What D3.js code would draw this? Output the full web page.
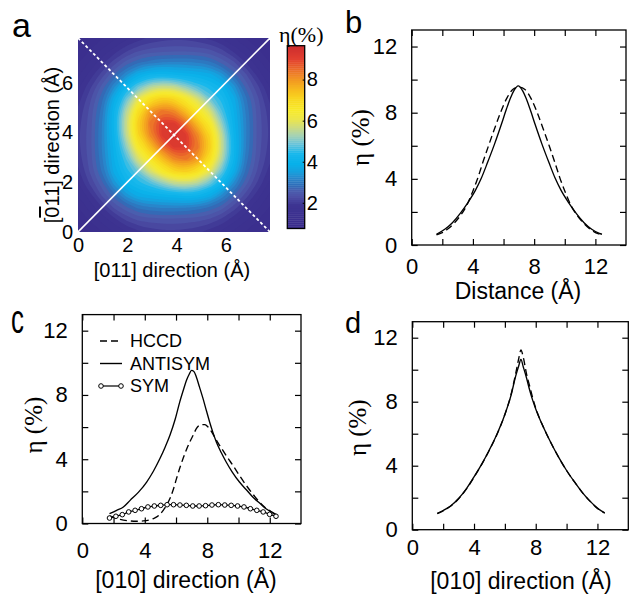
<!DOCTYPE html>
<html>
<head>
<meta charset="utf-8">
<script src="https://cdn.jsdelivr.net/npm/d3@7"></script>
<style>
body { margin: 0; background: #fff; }
svg { display: block; }
text { font-family: "Liberation Sans", Arial, Helvetica, sans-serif; fill: #000; }
.serif { font-family: "Liberation Serif", "Times New Roman", serif; }
</style>
</head>
<body>
<svg id="fig" width="630" height="597"></svg>
<script>
// ---------- data ----------

// panel a: eta (%) on a 17x17 grid, rows from top ([0-11] = 7.8 A) to bottom (0 A),
// columns along [011] from 0 to 7.8 A
var gridA = [
  [1.04,1.21,1.38,1.55,1.74,1.89,2.03,2.11,2.15,2.13,2.07,1.93,1.78,1.60,1.39,1.21,1.04],
  [1.21,1.41,1.63,1.87,2.14,2.35,2.46,2.50,2.52,2.52,2.50,2.43,2.23,1.91,1.68,1.43,1.21],
  [1.38,1.63,1.92,2.29,2.67,2.94,3.10,3.20,3.22,3.22,3.16,3.04,2.73,2.42,1.98,1.68,1.39],
  [1.55,1.87,2.29,2.80,3.34,3.90,4.19,4.24,4.18,4.07,3.99,3.87,3.47,2.90,2.42,1.91,1.60],
  [1.74,2.14,2.67,3.34,4.24,4.95,5.51,5.73,5.62,5.22,4.79,4.48,4.12,3.47,2.73,2.23,1.78],
  [1.89,2.35,2.94,3.90,4.95,6.09,6.92,7.32,7.16,6.59,5.87,5.03,4.48,3.87,3.04,2.43,1.93],
  [2.03,2.46,3.10,4.19,5.51,6.92,8.00,8.48,8.27,7.52,6.71,5.87,4.79,3.99,3.16,2.50,2.07],
  [2.11,2.50,3.20,4.24,5.73,7.32,8.48,9.21,9.25,8.54,7.52,6.59,5.22,4.07,3.22,2.52,2.13],
  [2.15,2.52,3.22,4.18,5.62,7.16,8.27,9.25,9.60,9.25,8.27,7.16,5.62,4.18,3.22,2.52,2.15],
  [2.13,2.52,3.22,4.07,5.22,6.59,7.52,8.54,9.25,9.21,8.48,7.32,5.73,4.24,3.20,2.50,2.11],
  [2.07,2.50,3.16,3.99,4.79,5.87,6.71,7.52,8.27,8.48,8.00,6.92,5.51,4.19,3.10,2.46,2.03],
  [1.93,2.43,3.04,3.87,4.48,5.03,5.87,6.59,7.16,7.32,6.92,6.09,4.95,3.90,2.94,2.35,1.89],
  [1.78,2.23,2.73,3.47,4.12,4.48,4.79,5.22,5.62,5.73,5.51,4.95,4.24,3.34,2.67,2.14,1.74],
  [1.60,1.91,2.42,2.90,3.47,3.87,3.99,4.07,4.18,4.24,4.19,3.90,3.34,2.80,2.29,1.87,1.55],
  [1.39,1.68,1.98,2.42,2.73,3.04,3.16,3.22,3.22,3.20,3.10,2.94,2.67,2.29,1.92,1.63,1.38],
  [1.21,1.43,1.68,1.91,2.23,2.43,2.50,2.52,2.52,2.50,2.46,2.35,2.14,1.87,1.63,1.41,1.21],
  [1.04,1.21,1.39,1.60,1.78,1.93,2.07,2.13,2.15,2.11,2.03,1.89,1.74,1.55,1.38,1.21,1.04]
];
var ticksA = [0, 2, 4, 6];
var cbarTicks = [2, 4, 6, 8];

// panel b: profiles along the two diagonals
var bSolidX = [1.62,2.16,2.66,3.16,3.66,4.16,4.53,4.96,5.41,5.86,6.20,6.46,6.66,6.96,7.26,7.46,7.72,8.06,8.51,8.96,9.39,9.76,10.26,10.76,11.26,11.76,12.26,12.43];
var bSolidY = [0.65,0.95,1.35,1.90,2.55,3.30,4.00,5.00,6.10,7.30,8.25,8.90,9.30,9.62,9.30,8.90,8.25,7.30,6.10,5.00,4.00,3.30,2.55,1.90,1.35,0.95,0.70,0.65];
var bDashX = [1.62,2.0,2.4,2.8,3.2,3.6,3.95,4.3,4.65,5.0,5.4,5.8,6.2,6.6,7.0,7.4,7.8,8.2,8.6,9.0,9.35,9.7,10.05,10.4,10.8,11.2,11.6,12.0,12.43];
var bDashY = [0.62,0.75,1.00,1.35,1.80,2.40,3.15,4.00,5.00,5.95,7.00,8.00,8.85,9.40,9.55,9.40,8.85,8.00,7.00,5.95,5.00,4.00,3.15,2.40,1.80,1.35,1.00,0.75,0.62];

// panel c: HCCD, ANTISYM, SYM along [010]
var cAntiX = [1.74,2.2,2.63,3.06,3.6,4.12,4.55,4.97,5.3,5.61,5.95,6.24,6.5,6.67,6.85,6.99,7.15,7.30,7.5,7.73,7.95,8.15,8.35,8.58,8.9,9.21,9.6,10.06,10.5,10.91,11.35,11.76,12.1,12.40];
var cAntiY = [0.61,0.82,1.03,1.44,1.95,2.58,3.25,4.04,4.75,5.49,6.50,7.57,8.40,8.91,9.30,9.53,9.45,9.12,8.50,7.77,7.00,6.32,5.70,5.07,4.40,3.83,3.20,2.58,2.10,1.65,1.27,0.92,0.72,0.57];
var cHccdX = [1.74,2.42,3.06,3.5,3.9,4.54,4.9,5.18,5.4,5.61,5.82,6.03,6.24,6.45,6.67,6.88,7.1,7.3,7.62,7.85,8.05,8.25,8.47,8.7,9.0,9.3,9.64,10.05,10.49,10.9,11.34,11.7,11.97,12.4];
var cHccdY = [0.47,0.26,0.16,0.14,0.16,0.30,0.50,0.82,1.15,1.55,2.10,2.79,3.45,4.04,4.60,5.07,5.50,5.90,6.15,6.15,6.00,5.75,5.38,5.00,4.55,4.10,3.62,3.00,2.38,1.85,1.34,1.00,0.82,0.51];
var cSymX = [1.74,2.15,2.56,2.97,3.38,3.79,4.2,4.61,5.02,5.43,5.84,6.25,6.66,7.07,7.48,7.89,8.3,8.71,9.12,9.53,9.94,10.35,10.76,11.17,11.58,11.99,12.40];
var cSymY = [0.34,0.45,0.55,0.72,0.82,0.92,1.03,1.09,1.13,1.17,1.17,1.15,1.13,1.09,1.09,1.11,1.15,1.17,1.15,1.13,1.09,1.03,0.92,0.82,0.72,0.57,0.45];
var legendNames = ['HCCD', 'ANTISYM', 'SYM'];

// panel d
var dSolidX = [1.62,2.0,2.5,3.0,3.5,4.0,4.5,5.0,5.5,6.0,6.4,6.7,6.9,7.04,7.2,7.4,7.6,7.8,8.0,8.5,9.0,9.5,10.0,10.5,11.0,11.5,12.0,12.47];
var dSolidY = [1.02,1.20,1.50,1.95,2.55,3.30,4.10,5.00,6.00,7.20,8.40,9.60,10.25,10.65,10.15,9.50,8.75,8.10,7.55,6.40,5.40,4.50,3.70,3.00,2.35,1.80,1.35,1.05];
var dDashX = [1.62,2.0,2.5,3.0,3.5,4.0,4.5,5.0,5.5,6.0,6.4,6.7,6.9,7.04,7.2,7.4,7.6,7.8,8.0,8.5,9.0,9.5,10.0,10.5,11.0,11.5,12.0,12.47];
var dDashY = [1.00,1.18,1.48,1.93,2.53,3.28,4.08,4.98,5.98,7.20,8.45,9.75,10.70,11.23,10.75,9.75,9.00,8.25,7.60,6.40,5.40,4.50,3.70,3.00,2.35,1.80,1.33,1.03];

var lineTicks = [0, 2, 4, 6, 8, 10, 12];

// ---------- drawing ----------
var svg = d3.select('#fig');

// jet-like colour map taken from the colour bar
var cmapStops = [0.75,1.9,2.3,2.6,2.85,3.15,3.5,3.9,4.4,4.9,5.3,5.7,6.1,6.5,7.0,7.5,8.0,8.5,9.0,9.65];
var cmapColors = ['#3a2c8b','#3d3492','#4d4fa5','#4a5eae','#2f6db8','#2b82c8','#189edc','#08b0ea','#18b8ec','#6cc4d8','#a6d2b2','#cfdc7e','#ece64a','#f7ea2a','#f8da20','#f7bc1e','#f29822','#eb6c29','#e2402f','#cc2d2f'];
var cmap = d3.scaleLinear().domain(cmapStops).range(cmapColors).clamp(true);

// ---- panel a ----
var xA = d3.scaleLinear().domain([0, 7.8]).range([78, 270]);
var yA = d3.scaleLinear().domain([0, 7.8]).range([232, 38]);
var nA = gridA.length;
var gpos = d3.scaleLinear().domain([0.5, nA - 0.5]).range([0, 7.8]);
var levels = d3.range(0.8, 9.7, 0.2);
var contours = d3.contours().size([nA, nA]).thresholds(levels)([].concat.apply([], gridA));

svg.append('clipPath').attr('id', 'clipA').append('rect')
  .attr('x', xA(0)).attr('y', yA(7.8)).attr('width', xA(7.8) - xA(0)).attr('height', yA(0) - yA(7.8));
var gA = svg.append('g').attr('clip-path', 'url(#clipA)');
gA.append('rect').attr('x', xA(0)).attr('y', yA(7.8))
  .attr('width', xA(7.8) - xA(0)).attr('height', yA(0) - yA(7.8)).attr('fill', cmap(0.75));

var ring = d3.line()
  .x(function(p) { return xA(gpos(p[0])); })
  .y(function(p) { return yA(7.8 - gpos(p[1])); })
  .curve(d3.curveBasisClosed);

contours.forEach(function(c) {
  var dstr = c.coordinates.map(function(poly) {
    return poly.map(function(r) { return ring(r.slice(0, -1)); }).join('');
  }).join('');
  if (dstr) gA.append('path').attr('d', dstr).attr('fill', cmap(c.value)).attr('fill-rule', 'evenodd');
});

gA.append('line').attr('x1', xA(0)).attr('y1', yA(0)).attr('x2', xA(7.8)).attr('y2', yA(7.8))
  .attr('stroke', '#fff').attr('stroke-width', 1.6);
gA.append('line').attr('x1', xA(0)).attr('y1', yA(7.8)).attr('x2', xA(7.8)).attr('y2', yA(0))
  .attr('stroke', '#fff').attr('stroke-width', 1.8).attr('stroke-dasharray', '3,2.4');

var axA1 = svg.append('g').attr('transform', 'translate(0,' + yA(0) + ')')
  .call(d3.axisBottom(xA).tickValues(ticksA).tickSize(0).tickPadding(6));
var axA2 = svg.append('g').attr('transform', 'translate(' + xA(0) + ',0)')
  .call(d3.axisLeft(yA).tickValues(ticksA).tickSize(0).tickPadding(5));
[axA1, axA2].forEach(function(ax) {
  ax.attr('font-family', null).attr('font-size', null);
  ax.select('.domain').remove();
  ax.selectAll('text').style('font-size', '20px');
});

svg.append('text').attr('x', 172).attr('y', 277).attr('text-anchor', 'middle')
  .style('font-size', '20px').text('[011] direction (Å)');
var ylabA = svg.append('text').attr('transform', 'translate(59,145) rotate(-90)')
  .attr('text-anchor', 'middle').style('font-size', '20px');
ylabA.append('tspan').text('[');
ylabA.append('tspan').style('text-decoration', 'overline').text('0');
ylabA.append('tspan').text('11] direction (Å)');

// colour bar
var yC = d3.scaleLinear().domain([0.75, 9.65]).range([228.5, 45.7]);
var cbX = 287.3, cbW = 17.4;
var cbSteps = d3.range(0.75, 9.65, 0.1);
svg.append('g').selectAll('rect').data(cbSteps).enter().append('rect')
  .attr('x', cbX).attr('width', cbW)
  .attr('y', function(d) { return yC(Math.min(d + 0.1, 9.65)); })
  .attr('height', function(d) { return yC(d) - yC(Math.min(d + 0.1, 9.65)) + 0.4; })
  .attr('fill', function(d) { return cmap(d + 0.05); });
svg.append('rect').attr('x', cbX).attr('y', yC(9.65)).attr('width', cbW).attr('height', yC(0.75) - yC(9.65))
  .attr('fill', 'none').attr('stroke', '#000').attr('stroke-width', 1.3);
var axC = svg.append('g').attr('transform', 'translate(' + (cbX + cbW) + ',0)')
  .call(d3.axisRight(yC).tickValues(cbarTicks).tickSizeInner(-2).tickSizeOuter(0).tickPadding(2));
axC.attr('font-family', null).attr('font-size', null);
axC.select('.domain').remove();
axC.selectAll('text').style('font-size', '20px');
svg.append('text').attr('class', 'serif').attr('x', 279).attr('y', 42).style('font-size', '22px').text('η(%)');

// ---- line panels ----
function linePanel(o) {
  var x = d3.scaleLinear().domain([0, 14]).range([o.l, o.r]);
  var y = d3.scaleLinear().domain([0, 13]).range([o.b, o.t]);
  var g = svg.append('g');
  var fmt = function(d) { return d % 4 === 0 ? d : ''; };
  var axes = [
    g.append('g').attr('transform', 'translate(0,' + o.b + ')')
      .call(d3.axisBottom(x).tickValues(lineTicks).tickSizeInner(-6).tickSizeOuter(0).tickPadding(o.xpad).tickFormat(fmt)),
    g.append('g').attr('transform', 'translate(0,' + o.t + ')')
      .call(d3.axisTop(x).tickValues(lineTicks).tickSizeInner(-6).tickSizeOuter(0).tickFormat('')),
    g.append('g').attr('transform', 'translate(' + o.l + ',0)')
      .call(d3.axisLeft(y).tickValues(lineTicks).tickSizeInner(-6).tickSizeOuter(0).tickPadding(14.5).tickFormat(fmt)),
    g.append('g').attr('transform', 'translate(' + o.r + ',0)')
      .call(d3.axisRight(y).tickValues(lineTicks).tickSizeInner(-6).tickSizeOuter(0).tickFormat(''))
  ];
  axes.forEach(function(ax) {
    ax.attr('font-family', null).attr('font-size', null);
    ax.select('.domain').remove();
    ax.selectAll('line').attr('stroke-width', 1.2);
    ax.selectAll('text').style('font-size', '22px');
  });
  g.append('rect').attr('x', o.l).attr('y', o.t).attr('width', o.r - o.l).attr('height', o.b - o.t)
    .attr('fill', 'none').attr('stroke', '#000').attr('stroke-width', 1.3);
  g.append('text').attr('x', o.xtX).attr('y', o.xtY).attr('text-anchor', 'middle')
    .style('font-size', '23px').text(o.xtitle);
  g.append('text').attr('class', 'serif').attr('transform', 'translate(' + o.ytX + ',' + ((o.t + o.b) / 2 + o.ytShift) + ') rotate(-90)')
    .attr('text-anchor', 'middle').style('font-size', '25px').text('η (%)');
  var line = d3.line().x(function(d) { return x(d[0]); }).y(function(d) { return y(d[1]); })
    .curve(d3.curveMonotoneX);
  return { x: x, y: y, g: g, line: line };
}

function addCurve(p, xs, ys, dashed) {
  p.g.append('path').datum(d3.zip(xs, ys)).attr('d', p.line)
    .attr('fill', 'none').attr('stroke', '#000').attr('stroke-width', 1.35)
    .attr('stroke-dasharray', dashed ? '7,4' : null);
}

var pB = linePanel({ l: 411.7, r: 626, t: 30, b: 245, xpad: 13, xtitle: 'Distance (Å)', xtX: 518, xtY: 299, ytX: 369, ytShift: 0 });
addCurve(pB, bSolidX, bSolidY, false);
addCurve(pB, bDashX, bDashY, true);

var pC = linePanel({ l: 82.3, r: 301, t: 314.6, b: 523.5, xpad: 19, xtitle: '[010] direction (Å)', xtX: 186, xtY: 588, ytX: 42, ytShift: 6 });
addCurve(pC, cHccdX, cHccdY, true);
addCurve(pC, cAntiX, cAntiY, false);
addCurve(pC, cSymX, cSymY, false);
pC.g.append('g').selectAll('circle').data(d3.zip(cSymX, cSymY)).enter().append('circle')
  .attr('cx', function(d) { return pC.x(d[0]); }).attr('cy', function(d) { return pC.y(d[1]); })
  .attr('r', 2.3).attr('fill', '#fff').attr('stroke', '#000').attr('stroke-width', 1);

// legend of panel c
var legY = [341, 363.5, 386];
var leg = pC.g.append('g');
leg.append('line').attr('x1', 100).attr('x2', 122).attr('y1', legY[0]).attr('y2', legY[0])
  .attr('stroke', '#000').attr('stroke-width', 1.4).attr('stroke-dasharray', '7,4');
leg.append('line').attr('x1', 100).attr('x2', 122).attr('y1', legY[1]).attr('y2', legY[1])
  .attr('stroke', '#000').attr('stroke-width', 1.4);
leg.append('line').attr('x1', 101).attr('x2', 121).attr('y1', legY[2]).attr('y2', legY[2])
  .attr('stroke', '#000').attr('stroke-width', 1.2);
[101, 121].forEach(function(cx) {
  leg.append('circle').attr('cx', cx).attr('cy', legY[2]).attr('r', 2.3)
    .attr('fill', '#fff').attr('stroke', '#000').attr('stroke-width', 1);
});
leg.selectAll('text.lg').data(legendNames).enter().append('text').attr('class', 'lg')
  .attr('x', 130).attr('y', function(d, i) { return legY[i]; }).attr('dy', '0.36em')
  .style('font-size', '18px').text(function(d) { return d; });

var pD = linePanel({ l: 412.3, r: 628.3, t: 321.7, b: 529.7, xpad: 10, xtitle: '[010] direction (Å)', xtX: 521, xtY: 589, ytX: 366, ytShift: 2 });
addCurve(pD, dDashX, dDashY, true);
addCurve(pD, dSolidX, dSolidY, false);

// panel letters
svg.append('text').attr('x', 12).attr('y', 37).style('font-size', '34px').text('a');
svg.append('text').attr('x', 345).attr('y', 33).style('font-size', '31px').text('b');
svg.append('text').attr('transform', 'translate(11,333) scale(0.72,1.15)').style('font-size', '36px').text('c');
svg.append('text').attr('x', 345).attr('y', 333).style('font-size', '29px').text('d');
</script>
</body>
</html>
